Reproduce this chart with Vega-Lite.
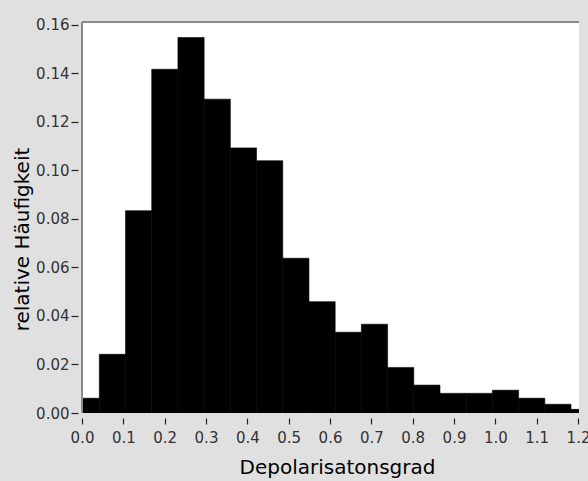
{
  "$schema": "https://vega.github.io/schema/vega-lite/v6.json",
  "width": 497,
  "height": 391,
  "autosize": {"type": "none"},
  "padding": {"left": 82, "top": 22, "right": 9, "bottom": 68},
  "background": "#e0e0e0",
  "config": {
    "view": {"fill": "white", "stroke": null},
    "axis": {
      "grid": false,
      "domain": false,
      "labelFont": "DejaVu Sans",
      "labelFontSize": 15,
      "labelColor": "#333333",
      "tickColor": "#222222",
      "tickWidth": 1.2,
      "titleFont": "DejaVu Sans",
      "titleFontSize": 20,
      "titleFontWeight": "normal",
      "titleColor": "#000000"
    }
  },
  "data": {
    "values": [
      {"x0": -0.0215, "x1": 0.0419, "freq": 0.0061},
      {"x0": 0.0419, "x1": 0.1053, "freq": 0.0242},
      {"x0": 0.1053, "x1": 0.1687, "freq": 0.0834},
      {"x0": 0.1687, "x1": 0.2321, "freq": 0.1417},
      {"x0": 0.2321, "x1": 0.2955, "freq": 0.1548},
      {"x0": 0.2955, "x1": 0.3589, "freq": 0.1294},
      {"x0": 0.3589, "x1": 0.4223, "freq": 0.1093},
      {"x0": 0.4223, "x1": 0.4857, "freq": 0.104},
      {"x0": 0.4857, "x1": 0.5491, "freq": 0.0638},
      {"x0": 0.5491, "x1": 0.6125, "freq": 0.0459},
      {"x0": 0.6125, "x1": 0.6759, "freq": 0.0333},
      {"x0": 0.6759, "x1": 0.7393, "freq": 0.0366},
      {"x0": 0.7393, "x1": 0.8027, "freq": 0.0188},
      {"x0": 0.8027, "x1": 0.8661, "freq": 0.0115},
      {"x0": 0.8661, "x1": 0.9295, "freq": 0.0081},
      {"x0": 0.9295, "x1": 0.9929, "freq": 0.0081},
      {"x0": 0.9929, "x1": 1.0563, "freq": 0.0094},
      {"x0": 1.0563, "x1": 1.1197, "freq": 0.0061},
      {"x0": 1.1197, "x1": 1.1831, "freq": 0.0036},
      {"x0": 1.1831, "x1": 1.2465, "freq": 0.0015}
    ]
  },
  "layer": [
    {
      "mark": {"type": "rect", "color": "#000000", "stroke": "#000000", "strokeWidth": 0.6, "clip": true},
      "encoding": {
        "x": {
          "field": "x0",
          "type": "quantitative",
          "scale": {"domain": [0, 1.2024], "nice": false, "zero": false},
          "axis": {
            "values": [0, 0.1, 0.2, 0.3, 0.4, 0.5, 0.6, 0.7, 0.8, 0.9, 1.0, 1.1, 1.2],
            "format": ".1f",
            "offset": 5,
            "tickSize": 6,
            "labelPadding": 6,
            "labelFlush": false,
            "title": "Depolarisatonsgrad",
            "titleX": 255,
            "titleY": 55,
            "titleBaseline": "alphabetic"
          }
        },
        "x2": {"field": "x1"},
        "y": {
          "field": "freq",
          "type": "quantitative",
          "scale": {"domain": [0, 0.1612], "nice": false},
          "axis": {
            "values": [0, 0.02, 0.04, 0.06, 0.08, 0.1, 0.12, 0.14, 0.16],
            "format": ".2f",
            "offset": 4,
            "tickSize": 7,
            "labelPadding": 2,
            "title": "relative Häufigkeit",
            "titleX": -50,
            "titleY": 217,
            "titleAngle": -90,
            "titleBaseline": "alphabetic"
          }
        },
        "y2": {"datum": 0}
      }
    },
    {
      "mark": {"type": "rule", "color": "#8a8a8a", "strokeWidth": 2},
      "encoding": {"x": {"datum": 0}}
    },
    {
      "mark": {"type": "rule", "color": "#8a8a8a", "strokeWidth": 2},
      "encoding": {"y": {"datum": 0.1612}}
    }
  ]
}
